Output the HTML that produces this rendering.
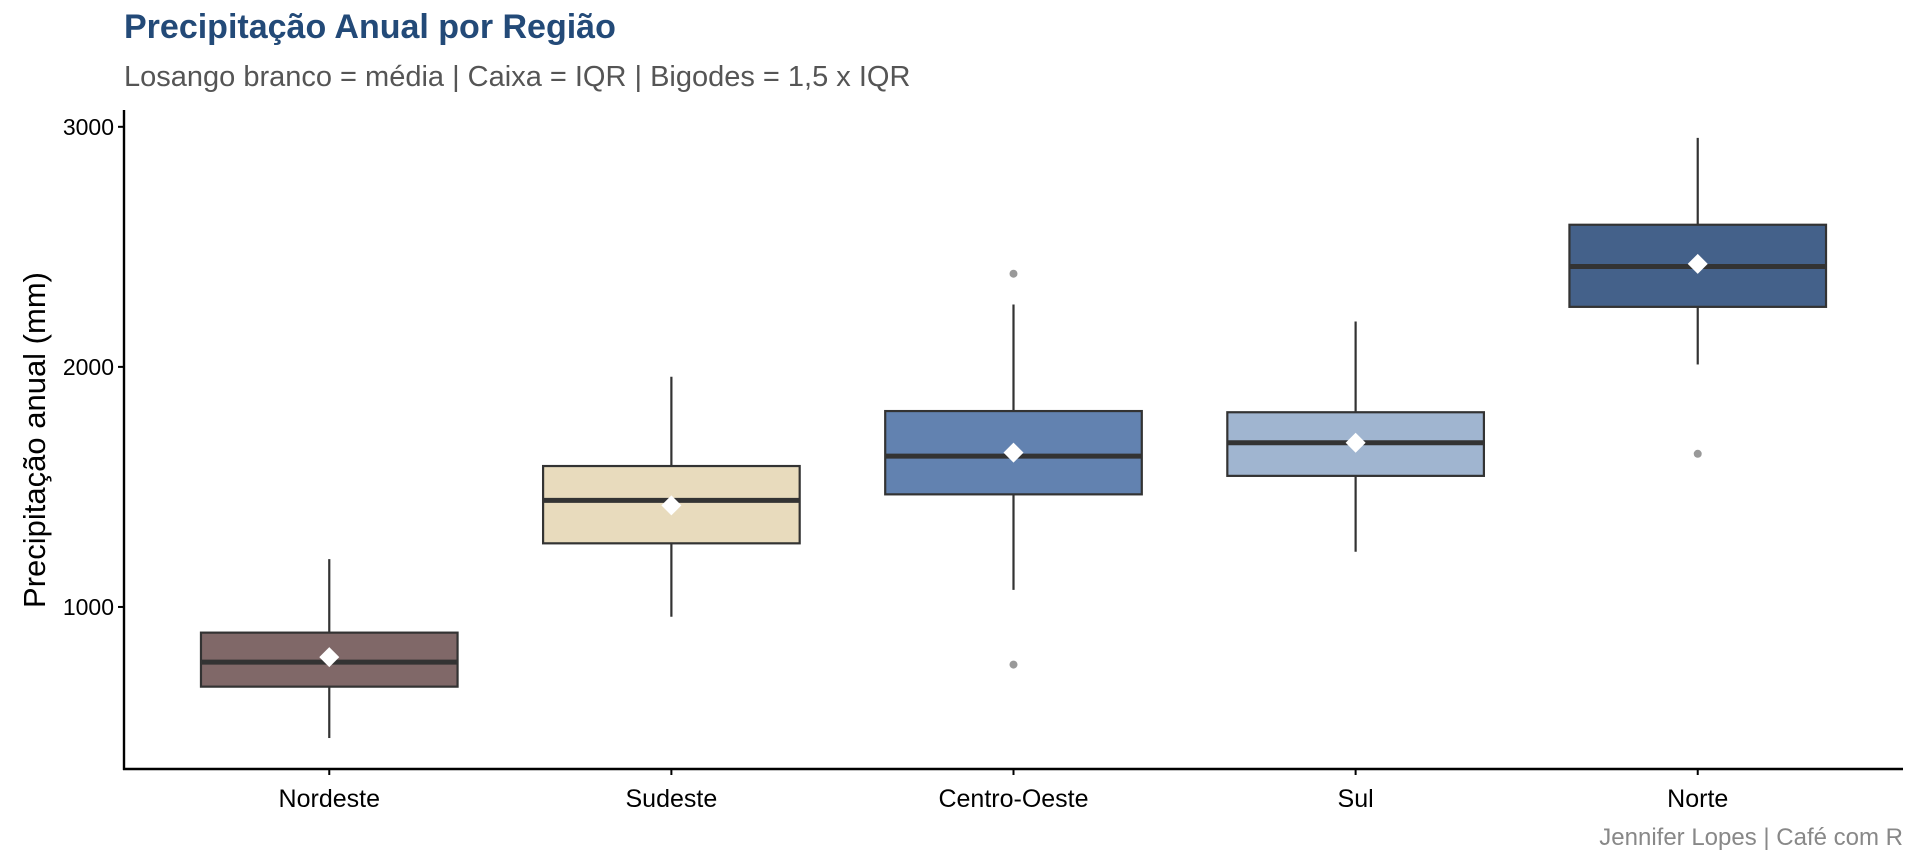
<!DOCTYPE html>
<html><head><meta charset="utf-8"><style>
html,body{margin:0;padding:0;background:#fff;}
svg{display:block;font-family:"Liberation Sans",Arial,sans-serif;}
</style></head><body>
<svg id="chart" width="1920" height="864">
<text x="124" y="38" font-size="34" font-weight="bold" fill="#234a78">Precipitação Anual por Região</text>
<text x="124" y="86" font-size="29" fill="#555">Losango branco = média | Caixa = IQR | Bigodes = 1,5 x IQR</text>
<text transform="translate(45,440) rotate(-90)" text-anchor="middle" font-size="31" fill="#000">Precipitação anual (mm)</text>
<text x="1903" y="845" text-anchor="end" font-size="24" fill="#888">Jennifer Lopes | Café com R</text>
<g id="plot"></g>
</svg>
<script>
const categories=["Nordeste","Sudeste","Centro-Oeste","Sul","Norte"];
const lowerWhisker=[454,959,1071,1230,2010];
const q1=[668,1265,1469,1546,2250];
const median=[770,1444,1628,1684,2418];
const q3=[893,1587,1816,1811,2592];
const upperWhisker=[1199,1959,2260,2189,2954];
const means=[791,1423,1643,1684,2429];
const outlierCat=[2,2,4];
const outlierVal=[2388,760,1638];
const fills=["#806868","#e8dbbd","#6282b0","#a0b5d0","#44618a"];
const yTicks=[1000,2000,3000];

const NS="http://www.w3.org/2000/svg";
const g=document.getElementById('plot');
const X0=124,X1=1903,Y0=769,Ytop=110;
const ymin=325,ymax=3070;
function y(v){return Y0-(v-ymin)/(ymax-ymin)*(Y0-Ytop);}
const band=(X1-X0)/5.2;
function x(i){return X0+(i+0.6)*band;}
function el(t,a,p){const e=document.createElementNS(NS,t);for(const k in a)e.setAttribute(k,a[k]);(p||g).appendChild(e);return e;}

let ax=el('line',{x1:X0,y1:Ytop,x2:X0,y2:Y0+1,stroke:'#000','stroke-width':2.4});


ax=el('line',{x1:X0-1,y1:Y0,x2:X1,y2:Y0,stroke:'#000','stroke-width':2.4});



yTicks.forEach(v=>{
  el('line',{x1:X0-6,y1:y(v),x2:X0,y2:y(v),stroke:'#000','stroke-width':2});
  const t=el('text',{x:X0-10,y:y(v)+8,'text-anchor':'end','font-size':23,fill:'#000'});
  t.textContent=v;
  
  
});

const bw=band*0.75;
categories.forEach((c,i)=>{
  const cx=x(i);
  el('line',{x1:cx,y1:Y0,x2:cx,y2:Y0+6,stroke:'#000','stroke-width':2});
  const t=el('text',{x:cx,y:807,'text-anchor':'middle','font-size':25,fill:'#000'});
  t.textContent=c;
  
  
  const grp=el('g',{});
  
  
  el('line',{x1:cx,y1:y(upperWhisker[i]),x2:cx,y2:y(q3[i]),stroke:'#333','stroke-width':2.2},grp);
  el('line',{x1:cx,y1:y(q1[i]),x2:cx,y2:y(lowerWhisker[i]),stroke:'#333','stroke-width':2.2},grp);
  el('rect',{x:cx-bw/2,y:y(q3[i]),width:bw,height:y(q1[i])-y(q3[i]),fill:fills[i],stroke:'#333','stroke-width':2.2},grp);
  el('line',{x1:cx-bw/2,y1:y(median[i]),x2:cx+bw/2,y2:y(median[i]),stroke:'#333','stroke-width':5},grp);
  const my=y(means[i]);
  const d=el('polygon',{points:`${cx},${my-10} ${cx+10},${my} ${cx},${my+10} ${cx-10},${my}`,fill:'#fff'},grp);
  
  
});
outlierCat.forEach((c,k)=>{
  const p=el('circle',{cx:x(c),cy:y(outlierVal[k]),r:4,fill:'#999'});
  
  
});
</script>
</body></html>
